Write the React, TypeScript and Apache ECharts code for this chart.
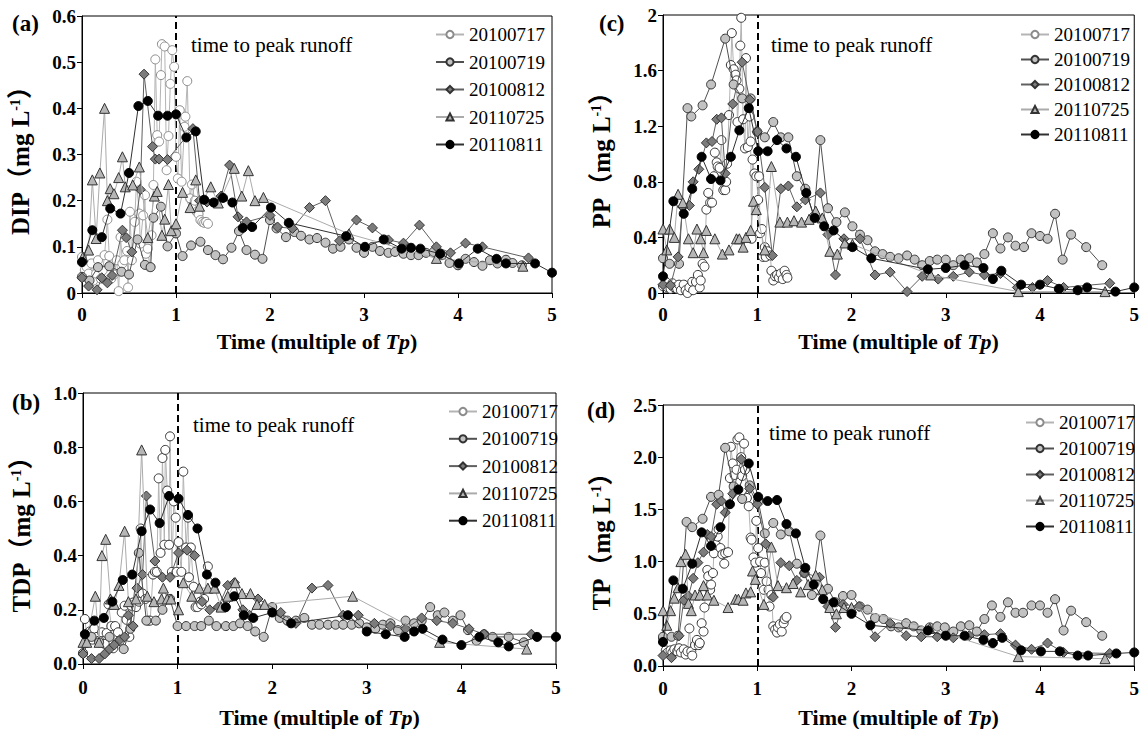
import React, { useEffect, useRef } from 'react';
import * as echarts from 'echarts';

const seriesNames = ['20100717', '20100719', '20100812', '20110725', '20110811'];

// ---------- (a) DIP ----------
const dip0717 = [[0,0.078],[0.03,0.05],[0.05,0.056],[0.07,0.042],[0.1,0.064],[0.12,0.027],[0.15,0.042],[0.17,0.071],[0.2,0.031],[0.22,0.049],[0.24,0.082],[0.27,0.159],[0.29,0.08],[0.31,0.031],[0.34,0.04],[0.37,0.071],[0.39,0.004],[0.41,0.121],[0.43,0.064],[0.45,0.071],[0.48,0.091],[0.49,0.012],[0.51,0.176],[0.53,0.071],[0.56,0.154],[0.58,0.241],[0.61,0.172],[0.62,0.107],[0.65,0.168],[0.67,0.212],[0.68,0.085],[0.7,0.096],[0.72,0.056],[0.74,0.125],[0.76,0.234],[0.78,0.506],[0.8,0.342],[0.82,0.328],[0.84,0.472],[0.85,0.539],[0.88,0.534],[0.9,0.266],[0.92,0.34],[0.94,0.453],[0.96,0.526],[0.98,0.49],[1.0,0.295],[1.02,0.248],[1.04,0.396],[1.06,0.241],[1.09,0.36],[1.1,0.382],[1.12,0.459],[1.15,0.205],[1.17,0.235],[1.2,0.2],[1.22,0.176],[1.24,0.171],[1.26,0.158],[1.28,0.154],[1.3,0.152],[1.32,0.154],[1.34,0.15]];
const dip0719 = [[0,0.035],[0.08,0.027],[0.17,0.056],[0.29,0.058],[0.42,0.046],[0.5,0.04],[0.59,0.116],[0.67,0.061],[0.73,0.056],[0.76,0.163],[0.84,0.187],[0.91,0.101],[1.0,0.129],[1.07,0.08],[1.16,0.103],[1.26,0.111],[1.34,0.093],[1.42,0.082],[1.5,0.073],[1.59,0.098],[1.67,0.134],[1.75,0.093],[1.84,0.083],[1.92,0.074],[2.0,0.158],[2.07,0.14],[2.17,0.121],[2.26,0.132],[2.33,0.124],[2.42,0.116],[2.5,0.119],[2.59,0.109],[2.67,0.096],[2.75,0.1],[2.84,0.116],[2.92,0.098],[3.0,0.087],[3.09,0.1],[3.17,0.091],[3.26,0.087],[3.33,0.089],[3.42,0.085],[3.5,0.082],[3.58,0.082],[3.66,0.087],[3.74,0.089],[3.83,0.082],[3.91,0.065],[4.0,0.06],[4.08,0.074],[4.17,0.067],[4.26,0.059],[4.34,0.071],[4.42,0.064],[4.51,0.072],[4.58,0.065],[4.68,0.06]];
const dip0812 = [[0,0.033],[0.07,0.015],[0.16,0.007],[0.21,0.033],[0.27,0.022],[0.32,0.038],[0.43,0.136],[0.47,0.12],[0.53,0.089],[0.62,0.224],[0.66,0.474],[0.75,0.317],[0.78,0.29],[0.82,0.29],[0.91,0.289],[1.18,0.356],[1.25,0.2],[1.33,0.197],[1.48,0.21],[1.57,0.277],[1.66,0.165],[1.75,0.154],[2.0,0.168],[2.08,0.143],[2.24,0.14],[2.42,0.185],[2.59,0.2],[2.74,0.113],[2.92,0.158],[3.09,0.141],[3.26,0.115],[3.42,0.108],[3.59,0.147],[3.77,0.1],[3.92,0.087],[4.08,0.108],[4.26,0.1],[4.75,0.076]];
const dip0725 = [[0.01,0.078],[0.07,0.093],[0.11,0.245],[0.15,0.118],[0.19,0.26],[0.24,0.4],[0.27,0.2],[0.3,0.226],[0.34,0.215],[0.39,0.25],[0.43,0.295],[0.46,0.23],[0.54,0.234],[0.61,0.273],[0.7,0.12],[0.77,0.21],[0.8,0.22],[0.85,0.125],[0.88,0.16],[0.92,0.235],[0.95,0.135],[1.0,0.15],[1.07,0.218],[1.15,0.185],[1.21,0.245],[1.25,0.188],[1.37,0.23],[1.45,0.195],[1.49,0.21],[1.62,0.27],[1.7,0.21],[1.77,0.265],[1.84,0.2],[1.93,0.207],[2.84,0.128],[3.77,0.075],[4.69,0.058]];
const dip0811 = [[0,0.067],[0.11,0.136],[0.21,0.121],[0.3,0.183],[0.41,0.172],[0.5,0.26],[0.6,0.405],[0.7,0.416],[0.81,0.384],[0.91,0.384],[1.0,0.387],[1.11,0.337],[1.21,0.35],[1.3,0.202],[1.4,0.196],[1.5,0.206],[1.6,0.196],[1.71,0.141],[1.81,0.143],[2.01,0.185],[2.2,0.152],[2.81,0.123],[3.01,0.1],[3.21,0.116],[3.4,0.096],[3.5,0.098],[3.6,0.096],[3.81,0.085],[4.01,0.064],[4.21,0.096],[4.41,0.074],[4.51,0.064],[4.82,0.064],[5.0,0.044]];

// ---------- (c) PP ----------
const pp0717 = [[0,0.05],[0.03,0.08],[0.05,0.04],[0.08,0.03],[0.1,0.07],[0.12,0.04],[0.15,0.03],[0.17,0.06],[0.19,0.02],[0.22,0.06],[0.24,0.02],[0.26,0.0],[0.28,0.04],[0.31,0.08],[0.32,0.02],[0.35,0.08],[0.37,0.13],[0.39,0.04],[0.4,0.09],[0.42,0.21],[0.44,0.19],[0.46,0.6],[0.48,0.72],[0.5,0.65],[0.52,0.65],[0.54,0.84],[0.55,1.01],[0.57,0.94],[0.58,0.91],[0.6,0.9],[0.62,1.1],[0.64,0.74],[0.66,0.74],[0.67,0.8],[0.68,0.93],[0.7,1.28],[0.72,1.64],[0.73,1.87],[0.75,1.61],[0.77,1.57],[0.78,1.53],[0.79,1.23],[0.81,1.47],[0.82,1.78],[0.83,1.98],[0.85,1.25],[0.87,1.04],[0.88,1.69],[0.9,1.05],[0.92,1.27],[0.93,1.09],[0.94,0.39],[0.95,0.96],[0.97,0.86],[0.99,0.84],[1.01,0.67],[1.02,0.84],[1.03,0.43],[1.05,0.46],[1.06,0.26],[1.08,0.33],[1.09,0.26],[1.11,0.3],[1.14,0.27],[1.15,0.16],[1.17,0.09],[1.19,0.12],[1.21,0.13],[1.23,0.11],[1.25,0.14],[1.27,0.1],[1.29,0.16],[1.31,0.13],[1.32,0.11]];
const pp0719 = [[0,0.25],[0.07,0.21],[0.17,0.21],[0.26,1.33],[0.3,1.27],[0.42,1.35],[0.51,1.5],[0.66,1.83],[0.75,1.5],[0.84,1.4],[0.93,1.4],[1.0,1.16],[1.08,1.12],[1.17,1.23],[1.25,1.12],[1.33,1.12],[1.42,0.84],[1.51,0.75],[1.6,0.55],[1.67,1.1],[1.75,0.61],[1.84,0.51],[1.93,0.58],[2.01,0.48],[2.09,0.42],[2.17,0.38],[2.25,0.3],[2.33,0.28],[2.41,0.26],[2.5,0.25],[2.59,0.27],[2.67,0.24],[2.75,0.2],[2.83,0.23],[2.91,0.24],[3.0,0.24],[3.08,0.2],[3.16,0.24],[3.25,0.25],[3.33,0.22],[3.41,0.28],[3.5,0.43],[3.58,0.32],[3.66,0.4],[3.74,0.34],[3.83,0.33],[3.91,0.43],[4.0,0.41],[4.08,0.39],[4.16,0.57],[4.24,0.24],[4.33,0.42],[4.49,0.33],[4.66,0.2]];
const pp0812 = [[0,0.06],[0.08,0.055],[0.16,0.26],[0.21,0.62],[0.28,0.63],[0.32,0.8],[0.38,0.89],[0.46,1.08],[0.52,1.09],[0.57,1.25],[0.62,1.26],[0.66,0.86],[0.74,1.36],[0.84,1.66],[0.92,1.39],[1.0,1.16],[1.08,0.76],[1.16,0.27],[1.25,0.75],[1.33,0.77],[1.42,0.62],[1.51,0.67],[1.67,0.72],[1.75,0.42],[1.83,0.13],[1.92,0.39],[2.09,0.39],[2.25,0.13],[2.41,0.15],[2.59,0.01],[2.75,0.12],[2.92,0.1],[3.08,0.12],[3.25,0.15],[3.41,0.13],[3.58,0.14],[3.76,0.04],[3.92,0.04],[4.08,0.09],[4.25,0.04],[4.74,0.07]];
const pp0725 = [[0,0.46],[0.04,0.31],[0.07,0.46],[0.12,0.4],[0.16,0.71],[0.21,0.65],[0.27,0.39],[0.32,0.29],[0.36,0.46],[0.4,0.39],[0.43,0.29],[0.46,0.45],[0.55,0.39],[0.63,0.28],[0.7,0.31],[0.78,0.39],[0.81,0.39],[0.85,0.33],[0.88,0.4],[0.93,0.45],[0.96,0.66],[0.99,0.6],[1.08,0.31],[1.15,0.91],[1.24,0.51],[1.32,0.51],[1.39,0.52],[1.47,0.51],[1.55,0.53],[1.62,0.59],[1.69,0.54],[1.77,0.3],[1.85,0.28],[1.93,0.36],[2.01,0.35],[2.84,0.13],[3.77,0.01],[4.69,0.01]];
const pp0811 = [[0,0.12],[0.11,0.66],[0.22,0.57],[0.31,0.75],[0.41,0.98],[0.51,0.82],[0.61,0.81],[0.72,0.98],[0.81,1.17],[0.91,1.33],[1.01,1.02],[1.11,1.02],[1.21,1.1],[1.31,1.04],[1.41,0.98],[1.52,0.72],[1.61,0.54],[1.71,0.48],[1.81,0.45],[2.01,0.33],[2.21,0.25],[2.81,0.17],[3.0,0.18],[3.2,0.2],[3.4,0.18],[3.5,0.1],[3.59,0.16],[3.8,0.06],[4.0,0.06],[4.2,0.03],[4.4,0.02],[4.5,0.04],[4.8,0.01],[5.0,0.04]];

// ---------- (b) TDP ----------
const tdp0717 = [[0.02,0.166],[0.04,0.1],[0.07,0.12],[0.1,0.09],[0.12,0.13],[0.15,0.1],[0.17,0.086],[0.2,0.117],[0.23,0.074],[0.25,0.114],[0.27,0.22],[0.3,0.14],[0.32,0.058],[0.34,0.14],[0.37,0.117],[0.39,0.086],[0.41,0.19],[0.44,0.215],[0.46,0.163],[0.49,0.1],[0.51,0.215],[0.53,0.227],[0.56,0.21],[0.59,0.23],[0.61,0.5],[0.63,0.26],[0.66,0.24],[0.69,0.16],[0.71,0.16],[0.74,0.33],[0.76,0.34],[0.78,0.34],[0.8,0.685],[0.82,0.41],[0.84,0.76],[0.86,0.44],[0.87,0.79],[0.89,0.64],[0.91,0.44],[0.92,0.84],[0.94,0.34],[0.96,0.6],[0.98,0.54],[0.99,0.34],[1.01,0.45],[1.04,0.34],[1.06,0.71],[1.09,0.43],[1.11,0.54],[1.12,0.32],[1.14,0.43],[1.17,0.285],[1.19,0.21],[1.21,0.21],[1.24,0.23],[1.25,0.22],[1.28,0.24],[1.32,0.36]];
const tdp0719 = [[0,0.04],[0.09,0.1],[0.17,0.08],[0.28,0.1],[0.43,0.055],[0.5,0.13],[0.59,0.41],[0.67,0.16],[0.77,0.16],[0.84,0.2],[0.92,0.24],[1.0,0.14],[1.09,0.14],[1.18,0.14],[1.25,0.14],[1.33,0.16],[1.41,0.14],[1.51,0.14],[1.59,0.14],[1.66,0.15],[1.74,0.14],[1.82,0.12],[1.91,0.1],[2.0,0.21],[2.08,0.17],[2.16,0.16],[2.25,0.16],[2.34,0.17],[2.42,0.145],[2.5,0.145],[2.59,0.145],[2.67,0.145],[2.75,0.145],[2.84,0.145],[2.92,0.15],[3.0,0.135],[3.09,0.13],[3.17,0.145],[3.25,0.15],[3.33,0.125],[3.41,0.16],[3.5,0.15],[3.58,0.16],[3.67,0.21],[3.75,0.18],[3.82,0.19],[3.91,0.16],[3.99,0.18],[4.07,0.125],[4.16,0.086],[4.24,0.11],[4.33,0.1],[4.5,0.1],[4.66,0.08]];
const tdp0812 = [[0,0.037],[0.09,0.02],[0.17,0.02],[0.23,0.037],[0.28,0.055],[0.33,0.07],[0.39,0.09],[0.44,0.1],[0.48,0.18],[0.53,0.14],[0.57,0.28],[0.63,0.33],[0.67,0.62],[0.76,0.38],[0.84,0.32],[0.92,0.32],[1.01,0.41],[1.1,0.42],[1.18,0.4],[1.26,0.23],[1.34,0.2],[1.43,0.21],[1.53,0.29],[1.6,0.3],[1.69,0.2],[1.76,0.18],[1.85,0.24],[2.09,0.19],[2.25,0.15],[2.42,0.28],[2.59,0.29],[2.75,0.18],[2.91,0.18],[3.08,0.15],[3.25,0.14],[3.41,0.13],[3.58,0.17],[3.74,0.16],[3.91,0.15],[4.08,0.13],[4.24,0.11],[4.74,0.11]];
const tdp0725 = [[0,0.08],[0.04,0.08],[0.13,0.25],[0.17,0.08],[0.2,0.4],[0.24,0.46],[0.29,0.24],[0.33,0.22],[0.38,0.29],[0.44,0.49],[0.48,0.23],[0.56,0.24],[0.62,0.79],[0.68,0.25],[0.75,0.23],[0.83,0.24],[0.85,0.28],[0.89,0.24],[0.93,0.24],[1.01,0.2],[1.06,0.3],[1.15,0.25],[1.23,0.28],[1.32,0.28],[1.39,0.28],[1.46,0.21],[1.53,0.25],[1.61,0.3],[1.68,0.26],[1.77,0.26],[1.84,0.22],[1.92,0.22],[2.85,0.25],[3.77,0.08],[4.69,0.055]];
const tdp0811 = [[0.02,0.11],[0.12,0.16],[0.22,0.17],[0.31,0.23],[0.42,0.31],[0.52,0.33],[0.62,0.49],[0.71,0.57],[0.81,0.52],[0.91,0.62],[1.01,0.61],[1.11,0.55],[1.21,0.5],[1.31,0.33],[1.4,0.3],[1.51,0.21],[1.6,0.25],[1.7,0.18],[1.8,0.17],[2.0,0.19],[2.2,0.15],[2.8,0.18],[3.0,0.12],[3.2,0.11],[3.4,0.1],[3.5,0.12],[3.59,0.13],[3.8,0.09],[4.0,0.07],[4.19,0.1],[4.39,0.08],[4.5,0.065],[4.8,0.1],[5.0,0.1]];

// ---------- (d) TP ----------
const tp0717 = [[0,0.27],[0.03,0.15],[0.05,0.13],[0.08,0.15],[0.1,0.13],[0.12,0.16],[0.15,0.14],[0.17,0.17],[0.19,0.13],[0.22,0.16],[0.24,0.11],[0.26,0.14],[0.28,0.36],[0.3,0.14],[0.31,0.1],[0.34,0.2],[0.36,0.25],[0.38,0.2],[0.39,0.22],[0.41,0.41],[0.43,0.33],[0.44,0.56],[0.47,0.92],[0.48,0.86],[0.5,0.73],[0.51,0.78],[0.53,0.89],[0.54,1.08],[0.56,1.16],[0.58,1.24],[0.59,1.31],[0.61,1.13],[0.63,1.07],[0.65,0.98],[0.66,1.08],[0.69,1.09],[0.71,1.8],[0.72,2.1],[0.74,1.94],[0.76,1.83],[0.78,1.88],[0.79,2.17],[0.81,2.19],[0.83,2.0],[0.84,1.82],[0.86,2.13],[0.87,1.88],[0.89,1.61],[0.91,1.53],[0.93,1.23],[0.94,1.21],[0.96,1.04],[0.98,0.99],[0.99,1.39],[1.01,1.13],[1.03,1.0],[1.04,0.89],[1.07,0.73],[1.08,0.99],[1.1,0.81],[1.12,0.73],[1.13,0.57],[1.15,0.68],[1.17,0.38],[1.19,0.35],[1.21,0.32],[1.22,0.37],[1.24,0.4],[1.26,0.33],[1.28,0.41],[1.29,0.45],[1.31,0.47]];
const tp0719 = [[0,0.28],[0.09,0.28],[0.16,0.29],[0.25,1.38],[0.31,1.33],[0.42,1.41],[0.51,1.62],[0.59,1.64],[0.66,2.09],[0.75,1.72],[0.84,1.6],[0.92,1.73],[1.01,1.58],[1.08,1.27],[1.17,1.37],[1.25,1.26],[1.34,1.29],[1.42,0.98],[1.5,0.89],[1.58,0.68],[1.67,1.25],[1.75,0.74],[1.83,0.61],[1.91,0.67],[2.0,0.68],[2.09,0.57],[2.17,0.54],[2.25,0.46],[2.34,0.45],[2.42,0.38],[2.5,0.37],[2.58,0.41],[2.66,0.38],[2.74,0.34],[2.83,0.37],[2.91,0.38],[2.99,0.37],[3.08,0.33],[3.16,0.38],[3.25,0.39],[3.33,0.33],[3.41,0.45],[3.49,0.58],[3.58,0.47],[3.66,0.61],[3.74,0.51],[3.82,0.51],[3.91,0.58],[4.0,0.58],[4.08,0.51],[4.16,0.64],[4.25,0.34],[4.33,0.53],[4.49,0.42],[4.66,0.29]];
const tp0812 = [[0,0.1],[0.09,0.08],[0.17,0.29],[0.22,0.63],[0.27,0.67],[0.32,0.84],[0.37,0.99],[0.43,1.09],[0.47,1.26],[0.51,1.24],[0.57,1.55],[0.62,1.58],[0.66,1.47],[0.74,1.65],[0.83,1.98],[0.92,1.7],[1.0,1.55],[1.09,1.17],[1.17,0.66],[1.25,0.99],[1.34,0.96],[1.42,0.82],[1.5,0.89],[1.66,0.85],[1.75,0.57],[1.83,0.37],[1.91,0.59],[2.08,0.57],[2.25,0.28],[2.41,0.41],[2.58,0.29],[2.74,0.28],[2.91,0.28],[3.08,0.27],[3.25,0.29],[3.41,0.3],[3.58,0.31],[3.74,0.2],[3.91,0.16],[4.08,0.22],[4.25,0.13],[4.74,0.12]];
const tp0725 = [[0,0.53],[0.04,0.39],[0.08,0.53],[0.12,0.65],[0.16,0.75],[0.19,1.0],[0.24,1.07],[0.27,0.6],[0.3,0.53],[0.34,0.68],[0.39,0.68],[0.43,0.77],[0.47,0.68],[0.54,0.63],[0.69,0.56],[0.77,0.64],[0.8,0.64],[0.85,0.63],[0.88,0.7],[0.93,0.71],[0.95,0.91],[0.98,0.83],[1.07,0.59],[1.15,1.14],[1.22,0.77],[1.31,0.75],[1.38,0.79],[1.46,0.71],[1.54,0.78],[1.62,0.87],[1.69,0.73],[1.77,0.56],[1.84,0.5],[1.92,0.56],[2.0,0.56],[2.83,0.36],[3.77,0.09],[4.69,0.07]];
const tp0811 = [[0,0.23],[0.11,0.82],[0.21,0.74],[0.31,0.98],[0.41,1.28],[0.51,1.15],[0.61,1.33],[0.71,1.55],[0.8,1.69],[0.91,1.94],[1.01,1.62],[1.11,1.58],[1.21,1.59],[1.31,1.36],[1.41,1.27],[1.51,0.94],[1.6,0.78],[1.7,0.64],[1.81,0.61],[2.0,0.5],[2.2,0.39],[2.81,0.34],[3.0,0.29],[3.2,0.29],[3.4,0.25],[3.5,0.22],[3.6,0.27],[3.8,0.15],[4.01,0.14],[4.21,0.14],[4.4,0.1],[4.51,0.1],[4.81,0.12],[5.0,0.13]];

const FONT = "'Liberation Serif', 'Times New Roman', 'Noto Sans CJK SC', serif";

const seriesStyles = [
  { symbol: 'circle', size: 9, fill: '#ffffff', border: '#333333', line: '#b4b4b4' },
  { symbol: 'circle', size: 9, fill: '#c2c2c2', border: '#333333', line: '#505050' },
  { symbol: 'diamond', size: 10, fill: '#7c7c7c', border: '#333333', line: '#606060' },
  { symbol: 'triangle', size: 10, fill: '#b6b6b6', border: '#333333', line: '#ababab' },
  { symbol: 'circle', size: 9, fill: '#000000', border: '#000000', line: '#303030' },
];

const panels = [
  {
    data: [dip0717, dip0719, dip0812, dip0725, dip0811], yTitle: 'DIP', yMax: 0.6, yInterval: 0.1,
    fmt: (v: number) => (v === 0 ? '0' : v.toFixed(1)), label: '(a)', openBorder: '#8c8c8c',
    grid: { left: 82, top: 16, width: 470, height: 277 },
    labelPos: [12, 23], peakPos: [191, 45],
    legend: { left: 435, top: 25, gap: 8.5 }, xLabelMargin: 12, xNameGap: 37,
  },
  {
    data: [tdp0717, tdp0719, tdp0812, tdp0725, tdp0811], yTitle: 'TDP', yMax: 1.0, yInterval: 0.2,
    fmt: (v: number) => v.toFixed(1), label: '(b)', openBorder: '#333333',
    grid: { left: 83, top: 393, width: 473, height: 272 },
    labelPos: [12, 402], peakPos: [193, 425],
    legend: { left: 448, top: 402, gap: 8.3 }, xLabelMargin: 14, xNameGap: 42,
  },
  {
    data: [pp0717, pp0719, pp0812, pp0725, pp0811], yTitle: 'PP', yMax: 2, yInterval: 0.4,
    fmt: (v: number) => (v === 0 || v === 2 ? String(v) : v.toFixed(1)), label: '(c)', openBorder: '#333333',
    grid: { left: 663, top: 15, width: 475, height: 278 },
    labelPos: [599, 23], peakPos: [771, 45],
    legend: { left: 1020, top: 25, gap: 6 }, xLabelMargin: 12, xNameGap: 37,
  },
  {
    data: [tp0717, tp0719, tp0812, tp0725, tp0811], yTitle: 'TP', yMax: 2.5, yInterval: 0.5,
    fmt: (v: number) => v.toFixed(1), label: '(d)', openBorder: '#333333',
    grid: { left: 663, top: 405, width: 475, height: 262 },
    labelPos: [587, 410], peakPos: [769, 433],
    legend: { left: 1025, top: 413, gap: 7 }, xLabelMargin: 13, xNameGap: 40,
  },
];

export default function App() {
  const ref = useRef<HTMLDivElement>(null);

  useEffect(() => {
    document.body.style.margin = '0';
    if (!ref.current) return;
    const chart = echarts.init(ref.current, undefined, { renderer: 'svg' });

    const grids: any[] = [];
    const xAxes: any[] = [];
    const yAxes: any[] = [];
    const series: any[] = [];
    const legends: any[] = [];
    const graphics: any[] = [];

    panels.forEach((p, i) => {
      grids.push({ ...p.grid, show: true, borderColor: '#000', borderWidth: 1, containLabel: false });
      xAxes.push({
        type: 'value', gridIndex: i, min: 0, max: 5, interval: 1,
        axisLine: { show: true, lineStyle: { color: '#000', width: 1 } },
        axisTick: { show: true, inside: false, length: 5, lineStyle: { color: '#000' } },
        splitLine: { show: false },
        axisLabel: { fontFamily: FONT, fontWeight: 'bold', fontSize: 19, color: '#000', margin: p.xLabelMargin },
        name: '{a|Time (multiple of }{b|Tp}{a|)}',
        nameLocation: 'middle', nameGap: p.xNameGap,
        nameTextStyle: {
          fontFamily: FONT, color: '#000',
          rich: {
            a: { fontFamily: FONT, fontSize: 22, fontWeight: 'bold', color: '#000' },
            b: { fontFamily: FONT, fontSize: 22, fontWeight: 'bold', fontStyle: 'italic', color: '#000' },
          },
        },
      });
      yAxes.push({
        type: 'value', gridIndex: i, min: 0, max: p.yMax, interval: p.yInterval,
        axisLine: { show: true, lineStyle: { color: '#000', width: 1 } },
        axisTick: { show: true, inside: false, length: 5, lineStyle: { color: '#000' } },
        splitLine: { show: false },
        axisLabel: { fontFamily: FONT, fontWeight: 'bold', fontSize: 19, color: '#000', margin: 6, formatter: p.fmt },
        name: `{a|${p.yTitle}（mg L}{s|-1}{a|）}`,
        nameLocation: 'middle', nameGap: 49, nameRotate: 90,
        nameTextStyle: {
          fontFamily: FONT, color: '#000',
          rich: {
            a: { fontFamily: FONT, fontSize: 25, fontWeight: 'bold', color: '#000' },
            s: { fontFamily: FONT, fontSize: 14, fontWeight: 'bold', color: '#000', verticalAlign: 'top' },
          },
        },
      });
      p.data.forEach((d, k) => {
        const st = seriesStyles[k];
        const s: any = {
          type: 'line', name: seriesNames[k], xAxisIndex: i, yAxisIndex: i,
          data: d, symbol: st.symbol, symbolSize: st.size, showSymbol: true, clip: false,
          lineStyle: { color: st.line, width: 1 },
          itemStyle: { color: st.fill, borderColor: k === 0 ? p.openBorder : st.border, borderWidth: 1, opacity: 1 },
          emphasis: { disabled: true },
          z: 2 + k,
        };
        if (k === 0) {
          s.markLine = {
            silent: true, symbol: ['none', 'none'], label: { show: false },
            lineStyle: { color: '#000', width: 2, type: [7, 4] },
            data: [{ xAxis: 1 }],
            z: 1,
          };
        }
        series.push(s);
      });
      legends.push({
        data: seriesNames, orient: 'vertical', left: p.legend.left, top: p.legend.top,
        itemWidth: 28, itemHeight: 9, itemGap: p.legend.gap, padding: 0,
        selectedMode: false,
        textStyle: { fontFamily: FONT, fontSize: 19, color: '#000', lineHeight: 18 },
      });
      graphics.push({
        type: 'text', x: p.labelPos[0], y: p.labelPos[1],
        style: { text: p.label, font: `bold 23px ${FONT}`, fill: '#000', verticalAlign: 'middle' },
      });
      graphics.push({
        type: 'text', x: p.peakPos[0], y: p.peakPos[1],
        style: { text: 'time to peak runoff', font: `21px ${FONT}`, fill: '#000', verticalAlign: 'middle' },
      });
    });

    chart.setOption({
      animation: false,
      backgroundColor: '#fff',
      grid: grids,
      xAxis: xAxes,
      yAxis: yAxes,
      legend: legends,
      series,
      graphic: graphics,
    });

    return () => chart.dispose();
  }, []);

  return <div ref={ref} style={{ width: 1142, height: 729 }} />;
}
